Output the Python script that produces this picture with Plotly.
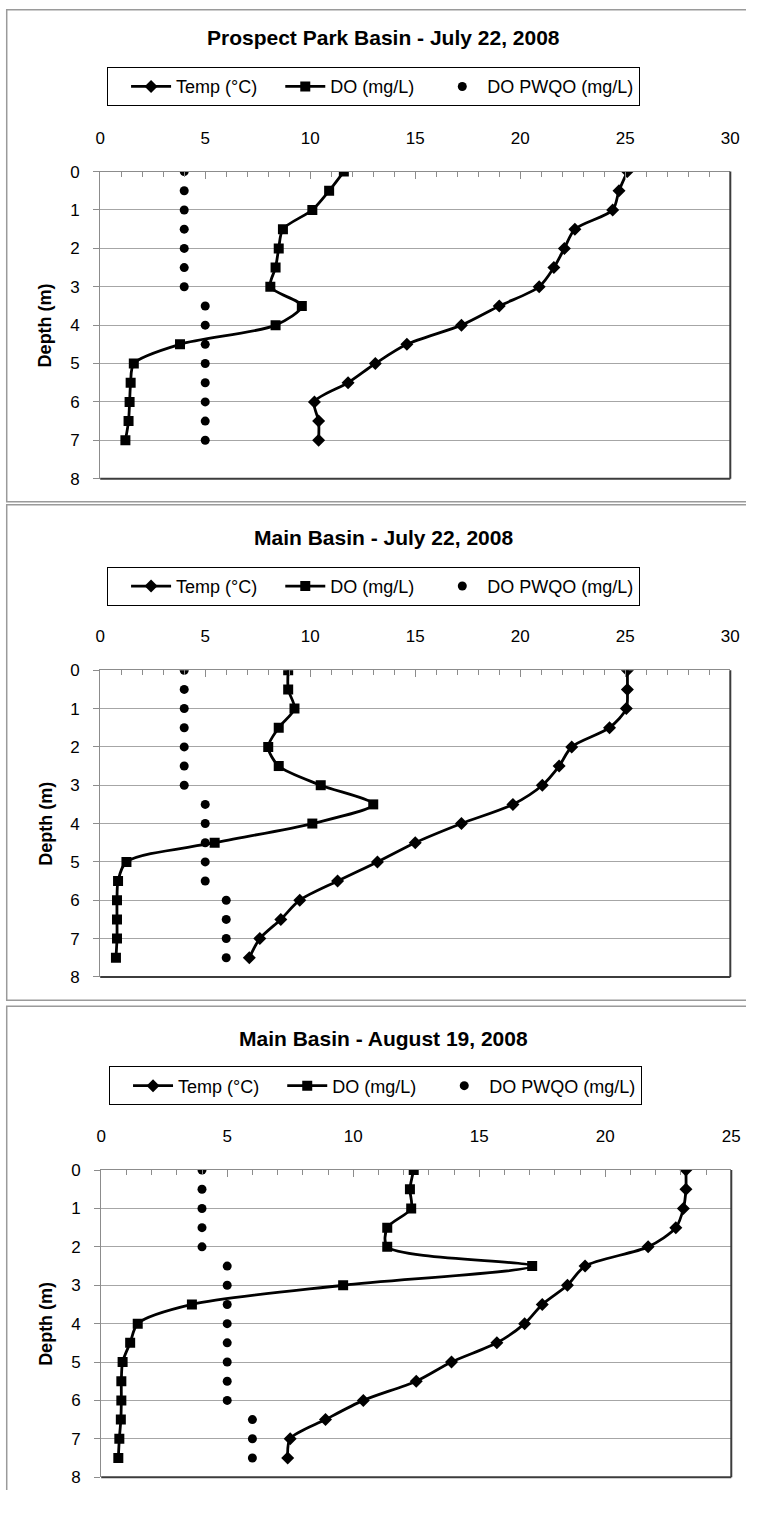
import plotly.graph_objects as go

# page size and the default body margin the figure sits inside
PAGE_W, PAGE_H = 771, 1516
BODY_MARGIN = 8
W, H = PAGE_W - 2 * BODY_MARGIN, PAGE_H - 2 * BODY_MARGIN

# ---- data: depth (m) and measured profiles ----
depth_pp = [0, 0.5, 1, 1.5, 2, 2.5, 3, 3.5, 4, 4.5, 5, 5.5, 6, 6.5, 7]
temp_pp = [25.1, 24.7, 24.4, 22.6, 22.1, 21.6, 20.9, 19.0, 17.2, 14.6, 13.1, 11.8, 10.2, 10.4, 10.4]
do_pp = [11.6, 10.9, 10.1, 8.7, 8.5, 8.35, 8.1, 9.6, 8.35, 3.8, 1.6, 1.45, 1.4, 1.35, 1.2]
pwqo_pp = [4, 4, 4, 4, 4, 4, 4, 5, 5, 5, 5, 5, 5, 5, 5]

depth_mj = [0, 0.5, 1, 1.5, 2, 2.5, 3, 3.5, 4, 4.5, 5, 5.5, 6, 6.5, 7, 7.5]
temp_mj = [25.1, 25.1, 25.05, 24.25, 22.45, 21.85, 21.05, 19.65, 17.2, 15.0, 13.2, 11.3, 9.5, 8.6, 7.6, 7.1]
do_mj = [8.95, 8.95, 9.25, 8.5, 8.0, 8.5, 10.5, 13.0, 10.1, 5.45, 1.25, 0.85, 0.8, 0.8, 0.8, 0.75]
pwqo_mj = [4, 4, 4, 4, 4, 4, 4, 5, 5, 5, 5, 5, 6, 6, 6, 6]

depth_ma = [0, 0.5, 1, 1.5, 2, 2.5, 3, 3.5, 4, 4.5, 5, 5.5, 6, 6.5, 7, 7.5]
temp_ma = [23.2, 23.2, 23.1, 22.8, 21.7, 19.2, 18.5, 17.5, 16.8, 15.7, 13.9, 12.5, 10.4, 8.9, 7.5, 7.4]
do_ma = [12.4, 12.25, 12.3, 11.35, 11.35, 17.1, 9.6, 3.6, 1.45, 1.15, 0.85, 0.8, 0.8, 0.78, 0.72, 0.68]
pwqo_ma = [4, 4, 4, 4, 4, 5, 5, 5, 5, 5, 5, 5, 5, 6, 6, 6]

titles = ["Prospect Park Basin - July 22, 2008",
          "Main Basin - July 22, 2008",
          "Main Basin - August 19, 2008"]
x_max = [30, 30, 25]
series_names = ["Temp (°C)", "DO (mg/L)", "DO PWQO (mg/L)"]

panels = [
    (depth_pp, temp_pp, do_pp, pwqo_pp),
    (depth_mj, temp_mj, do_mj, pwqo_mj),
    (depth_ma, temp_ma, do_ma, pwqo_ma),
]

# ---- layout geometry in page pixels ----
# pl/pr/pt/pb: plot area edges, ty: title centre, lt/ll: legend top-left,
# fy0/fy1: chart frame top/bottom (None = runs off the page)
geom = [
    dict(pl=105, pr=747, pt=172.7, pb=483.7, ty=37, lt=67, ll=112, fy0=7, fy1=507),
    dict(pl=105, pr=747, pt=677.7, pb=988.3, ty=543, lt=573, ll=112, fy0=510, fy1=1012),
    dict(pl=106, pr=748, pt=1184, pb=1495, ty=1051, lt=1079, ll=114, fy0=1018, fy1=None),
]


def px(x):
    """page x (px) -> paper fraction"""
    return min(max((x - BODY_MARGIN) / W, 0), 1)


def py(y):
    """page y (px) -> paper fraction"""
    return min(max(1 - (y - BODY_MARGIN) / H, 0), 1)


FONT = "Liberation Sans, Arial, sans-serif"
AXIS_GRAY = "#8c8c8c"
GRID_GRAY = "#a6a6a6"
FRAME_GRAY = "#9a9a9a"

fig = go.Figure()
layout = dict(
    width=W, height=H, margin=dict(l=0, r=0, t=0, b=0),
    paper_bgcolor="white", plot_bgcolor="white",
    font=dict(family=FONT, color="black"),
    showlegend=True, shapes=[], annotations=[],
)

for i, ((d, t, do, pw), g) in enumerate(zip(panels, geom)):
    n = "" if i == 0 else str(i + 1)
    xa, ya = "x" + n, "y" + n
    leg = "legend" + n

    fig.add_trace(go.Scatter(
        x=t, y=d, name=series_names[0], mode="lines+markers",
        line=dict(color="black", width=2.8, shape="spline", smoothing=0.8),
        marker=dict(symbol="diamond", size=10, color="black"),
        xaxis=xa, yaxis=ya, legend=leg))
    fig.add_trace(go.Scatter(
        x=do, y=d, name=series_names[1], mode="lines+markers",
        line=dict(color="black", width=2.8, shape="spline", smoothing=0.8),
        marker=dict(symbol="square", size=10, color="black"),
        xaxis=xa, yaxis=ya, legend=leg))
    fig.add_trace(go.Scatter(
        x=pw, y=d, name=series_names[2], mode="markers",
        marker=dict(symbol="circle", size=9, color="black"),
        xaxis=xa, yaxis=ya, legend=leg))

    layout["xaxis" + n] = dict(
        domain=[px(g["pl"]), px(g["pr"])], anchor=ya, side="top",
        range=[0, x_max[i]], dtick=5, tick0=0,
        showgrid=False, zeroline=False,
        showline=True, linecolor=AXIS_GRAY, linewidth=1,
        ticks="inside", ticklen=7, tickcolor=AXIS_GRAY,
        minor=dict(dtick=1, ticks="inside", ticklen=5, tickcolor=AXIS_GRAY),
        tickfont=dict(size=17, family=FONT), ticklabelstandoff=20,
        fixedrange=True,
    )
    layout["yaxis" + n] = dict(
        domain=[py(g["pb"]), py(g["pt"])], anchor=xa,
        range=[8, 0], dtick=1, tick0=0,
        showgrid=True, gridcolor=GRID_GRAY, gridwidth=1, zeroline=False,
        showline=True, linecolor=AXIS_GRAY, linewidth=1,
        ticks="outside", ticklen=6, tickcolor=AXIS_GRAY,
        tickfont=dict(size=17, family=FONT), ticklabelstandoff=10,
        fixedrange=True,
    )
    layout[leg] = dict(
        orientation="h", x=px(g["ll"]), y=py(g["lt"]),
        xanchor="left", yanchor="top", xref="paper", yref="paper",
        bordercolor="black", borderwidth=1, bgcolor="white",
        font=dict(size=18, family=FONT), indentation=18, itemwidth=40,
    )

    # plot-area frame on the right and bottom
    layout["shapes"] += [
        dict(type="line", xref=xa + " domain", yref=ya + " domain",
             x0=1, x1=1, y0=0, y1=1, line=dict(color="#3c3c3c", width=2), layer="above"),
        dict(type="line", xref=xa + " domain", yref=ya + " domain",
             x0=0, x1=1, y0=0, y1=0, line=dict(color="#3c3c3c", width=2), layer="above"),
    ]
    # chart-area frame (continues past the right edge of the page)
    top = max(g["fy0"], BODY_MARGIN + 0.75)
    y_end = g["fy1"] if g["fy1"] is not None else PAGE_H
    layout["shapes"] += [
        dict(type="line", xref="paper", yref="paper", x0=px(9), x1=1,
             y0=py(top), y1=py(top), line=dict(color=FRAME_GRAY, width=1.5), layer="below"),
        dict(type="line", xref="paper", yref="paper", x0=px(9.75), x1=px(9.75),
             y0=py(top), y1=py(y_end), line=dict(color=FRAME_GRAY, width=1.5), layer="below"),
    ]
    if g["fy1"] is not None:
        layout["shapes"].append(
            dict(type="line", xref="paper", yref="paper", x0=px(9), x1=1,
                 y0=py(g["fy1"]), y1=py(g["fy1"]), line=dict(color=FRAME_GRAY, width=1.5), layer="below"))

    layout["annotations"] += [
        dict(text="<b>" + titles[i] + "</b>", xref="paper", yref="paper",
             x=px(394), y=py(g["ty"]), xanchor="center", yanchor="middle",
             showarrow=False, font=dict(size=21, family=FONT)),
        dict(text="<b>Depth (m)</b>", xref="paper", yref="paper",
             x=px(49), y=py((g["pt"] + g["pb"]) / 2), xanchor="center", yanchor="middle",
             textangle=-90, showarrow=False, font=dict(size=18, family=FONT)),
    ]

fig.update_layout(**layout)
fig.write_html("out.html")
